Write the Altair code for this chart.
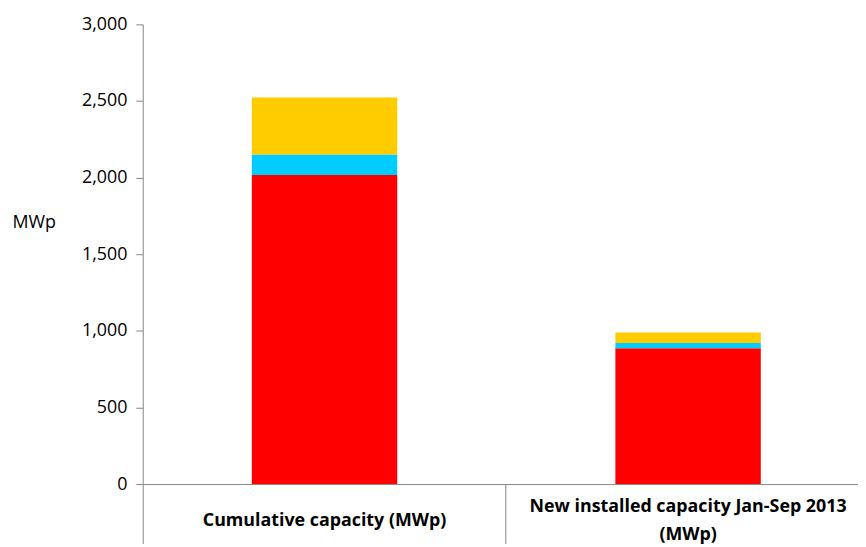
import altair as alt
import pandas as pd

categories = ["Cumulative capacity (MWp)", "New installed capacity Jan-Sep 2013|(MWp)"]
series = ["Segment 1", "Segment 2", "Segment 3"]
colors = ["#FF0000", "#00CCFF", "#FFCC00"]
values = {
    "Segment 1": [2017, 886],
    "Segment 2": [133, 34],
    "Segment 3": [372, 69],
}

rows = []
for si, s in enumerate(series):
    for ci, c in enumerate(categories):
        rows.append({"category": c, "series": s, "order": si, "value": values[s][ci]})
df = pd.DataFrame(rows)

FONT = "Open Sans"

chart = alt.Chart(df).mark_bar().encode(
    x=alt.X(
        "category:N",
        sort=categories,
        scale=alt.Scale(paddingInner=0.6, paddingOuter=0.2837, align=0.5288),
        axis=alt.Axis(
            title=None,
            labelAngle=0,
            bandPosition=-0.75,
            tickSize=60,
            tickColor="#868686",
            domainColor="#868686",
            labelPadding=-23,
            labelBaseline={
                "condition": {"test": "indexof(datum.value, '|') >= 0", "value": "line-bottom"},
                "value": "middle",
            },
            labelExpr="split(datum.label, '|')",
            labelFont=FONT,
            labelFontSize=18,
            labelFontWeight="bold",
            labelColor="#000000",
            labelLineHeight=28,
            labelLimit=400,
        ),
    ),
    y=alt.Y(
        "value:Q",
        stack="zero",
        scale=alt.Scale(domain=[0, 3000], nice=False),
        axis=alt.Axis(
            title="MWp",
            titleAngle=0,
            titleAlign="left",
            titleBaseline="middle",
            titleX=-132,
            titleY=200,
            titleFont=FONT,
            titleFontSize=18,
            titleFontWeight="normal",
            titleColor="#000000",
            values=[0, 500, 1000, 1500, 2000, 2500, 3000],
            format=",.0f",
            grid=False,
            tickSize=7,
            tickColor="#868686",
            domainColor="#868686",
            labelPadding=9,
            labelFont=FONT,
            labelFontSize=18,
            labelColor="#000000",
        ),
    ),
    color=alt.Color(
        "series:N",
        scale=alt.Scale(domain=series, range=colors),
        legend=None,
    ),
    order=alt.Order("order:Q"),
).properties(
    width=722,
    height=464,
    autosize=alt.AutoSizeParams(type="none"),
    padding={"left": 136, "top": 14, "right": 0, "bottom": 61},
).configure_view(stroke=None)

chart.save("out.html", embed_options={"renderer": "svg", "actions": False})
